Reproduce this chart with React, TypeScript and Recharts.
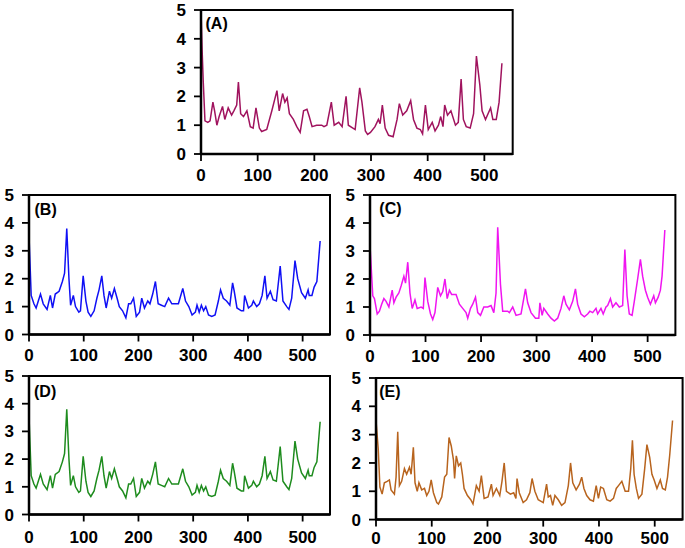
import React from "react";
import { LineChart, Line, XAxis, YAxis, ReferenceArea } from "recharts";

// ---------- data ----------
const xMajorTicks = [0, 100, 200, 300, 400, 500];
const xMinorTicks = [50, 150, 250, 350, 450, 550];
const yMajorTicks = [0, 1, 2, 3, 4, 5];
const yMinorTicks = [0.5, 1.5, 2.5, 3.5, 4.5];

const aX = [0, 2, 4, 7, 12, 16, 21, 24, 28, 32, 38, 42, 48, 54, 58, 63, 66, 70, 75, 81, 87, 92, 97, 103, 107, 116, 125, 134, 138, 144, 148, 152, 156, 163, 169, 175, 181, 187, 191, 196, 204, 213, 217, 222, 230, 235, 243, 249, 256, 260, 272, 280, 284, 290, 294, 299, 307, 313, 316, 320, 325, 331, 339, 346, 350, 356, 363, 370, 375, 381, 387, 391, 396, 401, 408, 413, 419, 423, 427, 430, 435, 441, 449, 454, 459, 463, 468, 475, 481, 486, 492, 496, 502, 511, 515, 521, 526, 531];
const aY = [5.0, 3.6, 2.5, 1.15, 1.1, 1.15, 1.8, 1.5, 1.0, 1.3, 1.65, 1.2, 1.6, 1.35, 1.5, 1.7, 2.5, 1.4, 1.3, 1.5, 0.95, 0.9, 1.6, 0.9, 0.78, 0.85, 1.5, 2.2, 1.5, 2.1, 1.8, 1.95, 1.4, 1.2, 0.95, 0.75, 1.5, 1.55, 1.3, 0.95, 1.0, 1.0, 0.95, 1.0, 1.8, 1.0, 1.1, 0.95, 2.0, 1.0, 0.85, 2.3, 1.8, 0.8, 0.68, 0.75, 0.95, 1.2, 1.05, 1.7, 0.9, 0.65, 0.6, 1.2, 1.75, 1.35, 1.5, 1.85, 1.2, 0.9, 0.85, 0.7, 1.7, 0.85, 1.1, 0.8, 1.0, 1.3, 0.95, 1.7, 1.35, 1.5, 1.0, 1.1, 2.6, 1.2, 0.95, 0.9, 1.4, 3.4, 2.4, 1.5, 1.2, 1.6, 1.2, 1.2, 1.8, 3.15];

const bX = [0, 4, 9, 13, 17, 21, 26, 33, 39, 43, 48, 55, 61, 65, 69, 73, 76, 81, 85, 91, 94, 99, 104, 108, 113, 119, 124, 128, 133, 137, 141, 147, 151, 156, 161, 165, 171, 177, 182, 186, 191, 196, 202, 206, 211, 217, 221, 226, 231, 236, 242, 248, 255, 261, 273, 281, 286, 292, 298, 304, 307, 311, 315, 319, 323, 328, 334, 340, 346, 350, 355, 361, 367, 372, 375, 380, 388, 392, 394, 401, 407, 410, 416, 421, 426, 431, 435, 441, 446, 452, 459, 464, 471, 475, 480, 486, 491, 498, 505, 510, 512, 517, 521, 526, 532];
const bY = [3.55, 1.4, 1.1, 0.95, 1.2, 1.45, 1.1, 0.9, 1.4, 0.95, 1.45, 1.55, 1.9, 2.2, 3.8, 2.0, 1.05, 1.4, 1.0, 0.8, 0.85, 2.1, 1.2, 0.8, 0.65, 0.85, 1.3, 1.6, 2.1, 1.4, 0.95, 1.55, 1.3, 1.65, 1.3, 1.0, 0.85, 0.6, 1.1, 1.1, 1.3, 0.65, 0.8, 1.3, 0.95, 1.2, 1.1, 1.45, 1.9, 1.1, 1.05, 1.0, 1.3, 1.1, 1.1, 1.65, 1.2, 1.0, 0.7, 0.8, 1.05, 0.8, 1.05, 0.85, 1.0, 0.7, 0.65, 0.7, 1.2, 1.6, 1.3, 1.2, 1.05, 1.85, 1.55, 0.95, 0.85, 0.85, 1.4, 0.95, 1.05, 1.2, 1.0, 1.1, 1.4, 2.1, 1.3, 1.55, 1.25, 1.2, 2.45, 1.2, 1.0, 0.9, 1.3, 2.65, 2.0, 1.5, 1.3, 1.6, 1.4, 1.4, 1.7, 1.9, 3.35];

const cX = [0, 5, 8, 13, 17, 21, 25, 29, 34, 40, 43, 47, 52, 56, 61, 64, 68, 72, 76, 81, 85, 92, 96, 99, 104, 109, 113, 117, 122, 127, 131, 135, 139, 143, 147, 155, 161, 167, 173, 176, 181, 185, 190, 194, 199, 205, 212, 218, 223, 227, 230, 235, 239, 248, 251, 257, 263, 272, 280, 284, 290, 298, 304, 306, 310, 313, 320, 326, 332, 338, 344, 349, 353, 359, 365, 370, 374, 380, 386, 392, 396, 401, 407, 410, 416, 420, 425, 428, 433, 437, 443, 449, 455, 459, 463, 467, 472, 476, 482, 487, 491, 496, 500, 505, 511, 514, 519, 523, 526, 531];
const cY = [3.2, 1.4, 1.3, 0.75, 0.85, 1.1, 1.3, 1.2, 1.0, 1.6, 1.15, 1.35, 1.5, 1.75, 2.1, 1.85, 2.6, 1.5, 0.95, 1.25, 0.95, 1.0, 0.95, 2.05, 1.2, 0.75, 0.55, 0.8, 1.7, 1.4, 1.55, 2.0, 1.3, 1.6, 1.45, 1.45, 1.1, 0.95, 0.8, 0.6, 0.95, 1.1, 1.35, 0.8, 0.7, 1.0, 1.0, 1.05, 0.8, 1.5, 3.85, 1.8, 0.85, 0.85, 0.8, 1.0, 0.7, 0.75, 1.65, 1.15, 0.8, 0.6, 0.6, 1.15, 0.7, 0.95, 0.75, 0.6, 0.5, 0.6, 0.95, 1.4, 1.1, 0.9, 1.2, 1.65, 1.1, 0.75, 0.65, 0.75, 0.85, 0.8, 0.95, 0.75, 0.95, 0.75, 1.0, 1.05, 1.3, 1.0, 1.15, 1.0, 1.05, 3.05, 1.4, 0.75, 0.7, 1.2, 2.0, 2.7, 2.1, 1.6, 1.35, 1.1, 1.4, 1.15, 1.35, 1.6, 2.1, 3.75];

const dX = [0, 4, 9, 13, 17, 21, 26, 33, 39, 43, 48, 55, 61, 65, 69, 73, 76, 81, 85, 91, 94, 99, 104, 108, 113, 119, 124, 128, 133, 137, 141, 147, 151, 156, 161, 165, 171, 177, 182, 186, 191, 196, 202, 206, 211, 217, 221, 226, 231, 236, 242, 248, 255, 261, 273, 281, 286, 292, 298, 304, 307, 311, 315, 319, 323, 328, 334, 340, 346, 350, 355, 361, 367, 372, 375, 380, 388, 392, 394, 401, 407, 410, 416, 421, 426, 431, 435, 441, 446, 452, 459, 464, 471, 475, 480, 486, 491, 498, 505, 510, 512, 517, 521, 526, 532];
const dY = [3.55, 1.4, 1.1, 0.95, 1.2, 1.45, 1.1, 0.9, 1.4, 0.95, 1.45, 1.55, 1.9, 2.2, 3.8, 2.0, 1.05, 1.4, 1.0, 0.8, 0.85, 2.1, 1.2, 0.8, 0.65, 0.85, 1.3, 1.6, 2.1, 1.4, 0.95, 1.55, 1.3, 1.65, 1.3, 1.0, 0.85, 0.6, 1.1, 1.1, 1.3, 0.65, 0.8, 1.3, 0.95, 1.2, 1.1, 1.45, 1.9, 1.1, 1.05, 1.0, 1.3, 1.1, 1.1, 1.65, 1.2, 1.0, 0.7, 0.8, 1.05, 0.8, 1.05, 0.85, 1.0, 0.7, 0.65, 0.7, 1.2, 1.6, 1.3, 1.2, 1.05, 1.85, 1.55, 0.95, 0.85, 0.85, 1.4, 0.95, 1.05, 1.2, 1.0, 1.1, 1.4, 2.1, 1.3, 1.55, 1.25, 1.2, 2.45, 1.2, 1.0, 0.9, 1.3, 2.65, 2.0, 1.5, 1.3, 1.6, 1.4, 1.4, 1.7, 1.9, 3.35];

const eX = [0, 4, 7, 11, 15, 20, 24, 27, 33, 36, 39, 42, 46, 51, 55, 60, 63, 67, 70, 74, 77, 82, 87, 91, 95, 99, 103, 109, 112, 118, 123, 127, 131, 135, 139, 141, 144, 148, 152, 155, 158, 164, 170, 174, 180, 185, 189, 194, 201, 207, 210, 216, 222, 226, 230, 234, 241, 247, 251, 253, 257, 264, 270, 276, 280, 285, 291, 300, 306, 309, 313, 317, 321, 327, 333, 339, 345, 349, 353, 359, 365, 369, 373, 378, 384, 390, 395, 399, 403, 408, 414, 420, 426, 431, 435, 441, 447, 453, 457, 460, 463, 467, 471, 477, 482, 486, 491, 495, 499, 504, 510, 514, 519, 523, 527, 532];
const eY = [3.5, 2.5, 1.15, 0.9, 1.3, 1.35, 1.4, 1.05, 0.9, 1.5, 3.1, 1.2, 1.35, 1.8, 1.6, 1.85, 1.6, 2.55, 1.3, 1.0, 1.3, 1.05, 1.1, 0.85, 1.0, 1.4, 0.95, 0.6, 0.55, 0.8, 1.5, 1.6, 2.9, 2.6, 2.1, 1.45, 2.25, 1.9, 2.0, 1.6, 1.1, 0.85, 0.7, 0.55, 1.2, 1.0, 1.55, 0.75, 0.8, 1.25, 0.85, 1.1, 0.85, 1.35, 2.0, 1.0, 0.9, 0.95, 0.75, 1.45, 0.95, 0.6, 0.7, 0.95, 1.45, 1.0, 0.7, 0.6, 1.25, 0.8, 0.85, 0.5, 0.85, 0.7, 0.5, 0.6, 1.2, 2.0, 1.3, 1.05, 1.25, 1.5, 1.1, 0.85, 0.7, 0.65, 1.2, 0.75, 1.15, 1.1, 0.7, 0.65, 0.75, 1.1, 1.2, 1.35, 1.0, 1.0, 1.8, 2.8, 1.6, 1.1, 0.75, 0.9, 1.8, 2.65, 2.2, 1.6, 1.4, 1.1, 1.4, 1.1, 1.05, 1.5, 2.3, 3.5];

// ---------- layout ----------
const FONT = "'Liberation Sans', Arial, Helvetica, sans-serif";
const YW = 42;
const MT = 10;
const MR = 8;
const XH = 34;
const tickFont = { fontSize: 17, fontWeight: "bold", fill: "#000", fontFamily: FONT };
const tickStroke = { stroke: "#000", strokeWidth: 1.8 };
const axisStroke = { stroke: "#000", strokeWidth: 2.5 };

type PanelProps = {
  xs: number[];
  ys: number[];
  color: string;
  label: string;
  L: number;
  R: number;
  T: number;
  B: number;
  lx: number;
  ly: number;
  xm: number;
};

function Panel({ xs, ys, color, label, L, R, T, B, lx, ly, xm }: PanelProps) {
  const data = xs.map((x, i) => ({ x, y: ys[i] }));
  const W = R - L + YW + MR;
  const H = B - T + MT + XH;
  return (
    <>
      <div style={{ position: "absolute", left: L - YW, top: T - MT, width: W, height: H }}>
        <LineChart width={W} height={H} data={data} margin={{ top: MT, right: MR, bottom: 0, left: 0 }}>
          <XAxis
            xAxisId="minor"
            dataKey="x"
            type="number"
            domain={[0, 550]}
            ticks={xMinorTicks}
            interval={0}
            height={0}
            tickSize={4.5}
            tickLine={tickStroke}
            axisLine={false}
            tick={false}
          />
          <XAxis
            xAxisId="main"
            dataKey="x"
            type="number"
            domain={[0, 550]}
            ticks={xMajorTicks}
            interval={0}
            height={XH}
            tickSize={7}
            tickMargin={xm}
            tickLine={tickStroke}
            axisLine={axisStroke}
            tick={tickFont}
          />
          <YAxis
            yAxisId="minor"
            type="number"
            domain={[0, 5]}
            ticks={yMinorTicks}
            interval={0}
            width={0}
            tickSize={4.5}
            tickLine={tickStroke}
            axisLine={false}
            tick={false}
            allowDataOverflow
          />
          <YAxis
            yAxisId="main"
            type="number"
            domain={[0, 5]}
            ticks={yMajorTicks}
            interval={0}
            width={YW}
            tickSize={7}
            tickMargin={8}
            tickLine={tickStroke}
            axisLine={axisStroke}
            tick={tickFont}
            allowDataOverflow
          />
          <ReferenceArea
            xAxisId="main"
            yAxisId="main"
            x1={0}
            x2={550}
            y1={0}
            y2={5}
            fill="none"
            fillOpacity={0}
            stroke="#000"
            strokeWidth={2}
          />
          <Line
            xAxisId="main"
            yAxisId="main"
            type="linear"
            dataKey="y"
            stroke={color}
            strokeWidth={1.5}
            dot={false}
            activeDot={false}
            isAnimationActive={false}
          />
        </LineChart>
      </div>
      <div
        style={{
          position: "absolute",
          left: L + lx,
          top: T + ly - 8,
          fontFamily: FONT,
          fontWeight: "bold",
          fontSize: 16,
          lineHeight: "16px",
          color: "#000",
          whiteSpace: "nowrap",
        }}
      >
        {label}
      </div>
    </>
  );
}

export default function App() {
  return (
    <div style={{ position: "absolute", left: 0, top: 0, width: 685, height: 548, background: "#fff" }}>
      <Panel xs={aX} ys={aY} color="#A0135E" label="(A)" L={201} R={512.7} T={10} B={154} lx={4.5} ly={14} xm={8} />
      <Panel xs={bX} ys={bY} color="#1010F5" label="(B)" L={28.5} R={329.5} T={194.5} B={334} lx={6} ly={15} xm={7.5} />
      <Panel xs={cX} ys={cY} color="#F015F0" label="(C)" L={370.3} R={675.7} T={195} B={335} lx={9} ly={13.5} xm={8} />
      <Panel xs={dX} ys={dY} color="#1E8C1E" label="(D)" L={28.5} R={329.5} T={376} B={514.5} lx={5.5} ly={16} xm={9} />
      <Panel xs={eX} ys={eY} color="#B8641E" label="(E)" L={375.7} R={682.3} T={377.7} B={519.3} lx={3.5} ly={14} xm={5.5} />
    </div>
  );
}
